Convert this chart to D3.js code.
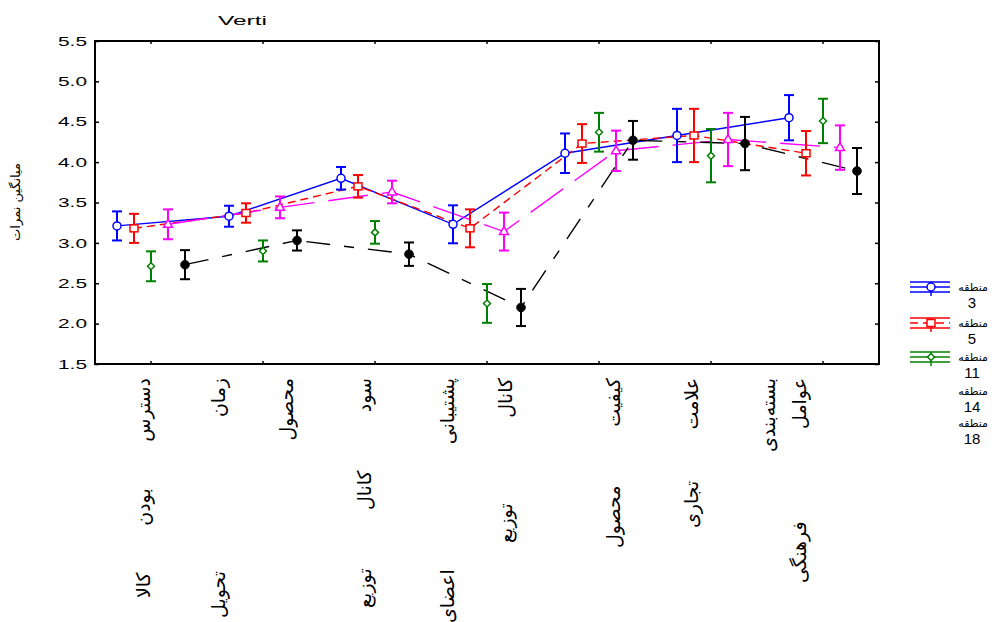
<!DOCTYPE html>
<html>
<head>
<meta charset="utf-8">
<script src="https://cdn.jsdelivr.net/npm/d3@7"></script>
<style>
  body { margin: 0; background: #fff; }
  text { font-family: "Liberation Sans", Arial, sans-serif; }
  .fa { font-family: "DejaVu Sans", sans-serif; }
</style>
</head>
<body>
<script>
// categories (one per tick) - each label is split over lines like the original
var groups = ["g1", "g2", "g3", "g4", "g5", "g6", "g7"];
var labelLines = [
    ["دسترس بودن کالا"],
    ["زمان تحویل", "محصول"],
    ["سود کانال توزیع"],
    ["پشتیبانی اعضای", "کانال توزیع"],
    ["کیفیت محصول"],
    ["علامت تجاری"],
    ["بسته‌بندی", "عوامل فرهنگی"]
];

// series (regions)
var seriesNames = ["3", "5", "11", "14", "18"];
var means3  = [3.21, 3.33, 3.80, 3.23, 4.11, 4.33, 4.55];
var err3    = [0.18, 0.13, 0.14, 0.235, 0.245, 0.33, 0.28];
var means5  = [3.18, 3.37, 3.70, 3.18, 4.23, 4.33, 4.11];
var err5    = [0.18, 0.12, 0.14, 0.235, 0.24, 0.33, 0.275];
var means11 = [2.71, 2.90, 3.13, 2.25, 4.37, 4.08, 4.51];
var err11   = [0.185, 0.13, 0.14, 0.24, 0.24, 0.33, 0.275];
var means14 = [3.23, 3.44, 3.63, 3.14, 4.14, 4.28, 4.18];
var err14   = [0.185, 0.135, 0.14, 0.235, 0.25, 0.33, 0.275];
var means18 = [2.73, 3.03, 2.86, 2.20, 4.27, 4.23, 3.89];
var err18   = [0.18, 0.125, 0.145, 0.23, 0.24, 0.33, 0.285];

var yTicks = [1.5, 2.0, 2.5, 3.0, 3.5, 4.0, 4.5, 5.0, 5.5];

// styling per series
var colors = ["#0000ff", "#ff0000", "#008000", "#ff00ff", "#000000"];
var dashes = [null, "8,5", null, "40,14", "24,14,10,14"];
var drawLine = [true, true, false, true, true];
var markers = ["circle", "square", "diamond", "triangle", "dot"];

// label layout (offset from tick and target length)
var labelDx = [[-8], [-45, 23], [-11], [-40, 18], [14], [-20], [-55, -24]];
var labelLen = [[220], [240, 75], [230], [245, 165], [170], [150], [123, 205]];

var allMeans = [means3, means5, means11, means14, means18];
var allErr = [err3, err5, err11, err14, err18];

var W = 995, H = 622;
var pLeft = 95, pRight = 879, pTop = 41, pBottom = 364;

var svg = d3.select("body").append("svg")
    .attr("width", W)
    .attr("height", H);

var x0 = d3.scaleBand().domain(groups).range([pLeft, pRight]).padding(0);
var x1 = d3.scalePoint().domain(seriesNames).range([-34, 34]);
var y = d3.scaleLinear().domain([1.5, 5.5]).range([pBottom, pTop]);

function cx(g, s) { return x0(g) + x0.bandwidth() / 2 + x1(s); }

// series table
var series = seriesNames.map(function(name, si) {
    return {
        name: name,
        color: colors[si],
        dash: dashes[si],
        line: drawLine[si],
        marker: markers[si],
        points: groups.map(function(g, gi) {
            return { g: g, s: name, m: allMeans[si][gi], e: allErr[si][gi] };
        })
    };
});

// axes
var yLeft = d3.axisLeft(y).tickValues(yTicks).tickFormat(d3.format(".1f")).tickSize(-4).tickPadding(8);
var yRight = d3.axisRight(y).tickValues(yTicks).tickFormat("").tickSize(-4);
var xTop = d3.axisTop(x0).tickFormat("").tickSize(-3);
var xBottom = d3.axisBottom(x0).tickFormat("").tickSize(-3);

var gl = svg.append("g").attr("transform", "translate(" + pLeft + ",0)").call(yLeft);
svg.append("g").attr("transform", "translate(" + pRight + ",0)").call(yRight);
svg.append("g").attr("transform", "translate(0," + pTop + ")").call(xTop);
svg.append("g").attr("transform", "translate(0," + pBottom + ")").call(xBottom);

svg.selectAll(".domain").remove();
svg.selectAll(".tick line").attr("stroke", "#000").attr("stroke-width", 1.5);
gl.selectAll(".tick text")
    .attr("font-size", 13)
    .attr("fill", "#000")
    .attr("textLength", 29)
    .attr("lengthAdjust", "spacingAndGlyphs");

// frame
svg.append("rect")
    .attr("x", pLeft).attr("y", pTop)
    .attr("width", pRight - pLeft).attr("height", pBottom - pTop)
    .attr("fill", "none").attr("stroke", "#000").attr("stroke-width", 2);

// lines
var line = d3.line()
    .x(function(d) { return cx(d.g, d.s); })
    .y(function(d) { return y(d.m); });

svg.selectAll(".serLine")
    .data(series.filter(function(d) { return d.line; }))
    .enter().append("path")
    .attr("class", "serLine")
    .attr("d", function(d) { return line(d.points); })
    .attr("fill", "none")
    .attr("stroke", function(d) { return d.color; })
    .attr("stroke-width", 1.4)
    .attr("stroke-dasharray", function(d) { return d.dash; });

// markers
function drawMarker(sel, type, color, px, py) {
    if (type === "circle") {
        sel.append("circle").attr("cx", px).attr("cy", py).attr("r", 4)
            .attr("fill", "#fff").attr("stroke", color).attr("stroke-width", 1.5);
    } else if (type === "dot") {
        sel.append("circle").attr("cx", px).attr("cy", py).attr("r", 4.3)
            .attr("fill", color).attr("stroke", color).attr("stroke-width", 1);
    } else if (type === "square") {
        sel.append("rect").attr("x", px - 4).attr("y", py - 3.5).attr("width", 8).attr("height", 7)
            .attr("fill", "#fff").attr("stroke", color).attr("stroke-width", 1.5);
    } else if (type === "diamond") {
        sel.append("path")
            .attr("d", "M" + px + "," + (py - 3.5) + "L" + (px + 3.5) + "," + py + "L" + px + "," + (py + 3.5) + "L" + (px - 3.5) + "," + py + "Z")
            .attr("fill", "#fff").attr("stroke", color).attr("stroke-width", 1.5);
    } else if (type === "triangle") {
        sel.append("path")
            .attr("d", "M" + px + "," + (py - 5) + "L" + (px + 4.5) + "," + (py + 3) + "L" + (px - 4.5) + "," + (py + 3) + "Z")
            .attr("fill", "#fff").attr("stroke", color).attr("stroke-width", 1.5);
    }
}

// error bars + markers
series.forEach(function(s) {
    var g = svg.append("g").attr("class", "ser");
    s.points.forEach(function(p) {
        var px = cx(p.g, p.s);
        var y1 = y(p.m + p.e), y2 = y(p.m - p.e);
        g.append("line").attr("x1", px).attr("x2", px).attr("y1", y1).attr("y2", y2)
            .attr("stroke", s.color).attr("stroke-width", 2);
        [y1, y2].forEach(function(yy) {
            g.append("line").attr("x1", px - 5).attr("x2", px + 5).attr("y1", yy).attr("y2", yy)
                .attr("stroke", s.color).attr("stroke-width", 2);
        });
        drawMarker(g, s.marker, s.color, px, y(p.m));
    });
});

// x labels, rotated; words are spread with word-spacing so letters stay joined
groups.forEach(function(g, gi) {
    labelLines[gi].forEach(function(txt, li) {
        var lx = x0(g) + x0.bandwidth() / 2 + labelDx[gi][li];
        var t = svg.append("text")
            .attr("class", "fa")
            .attr("transform", "translate(" + lx + ",378) rotate(-90)")
            .attr("text-anchor", "end")
            .attr("dominant-baseline", "central")
            .attr("font-size", 19)
            .text(txt);
        var nat = t.node().getComputedTextLength();
        var gaps = txt.split(" ").length - 1;
        if (gaps > 0 && nat < labelLen[gi][li]) {
            t.style("word-spacing", ((labelLen[gi][li] - nat) / gaps) + "px");
        }
    });
});

// title (cut off in the original)
svg.append("text")
    .attr("x", 218).attr("y", 25)
    .attr("font-size", 13)
    .attr("textLength", 49)
    .attr("lengthAdjust", "spacingAndGlyphs")
    .text("Verti");

// y label
svg.append("text")
    .attr("class", "fa")
    .attr("transform", "translate(15,202) rotate(-90)")
    .attr("text-anchor", "middle")
    .attr("dominant-baseline", "central")
    .attr("font-size", 13)
    .text("میانگین نمرات");

// legend
var legY = [287, 323, 357, 391, 423];
series.forEach(function(s, si) {
    var ly = legY[si];
    var lg = svg.append("g").attr("class", "legend");
    if (si < 3) {
        lg.append("line").attr("x1", 910).attr("x2", 950).attr("y1", ly - 5).attr("y2", ly - 5)
            .attr("stroke", s.color).attr("stroke-width", 1.4);
        lg.append("line").attr("x1", 910).attr("x2", 950).attr("y1", ly + 5).attr("y2", ly + 5)
            .attr("stroke", s.color).attr("stroke-width", 1.4);
        lg.append("line").attr("x1", 910).attr("x2", 950).attr("y1", ly).attr("y2", ly)
            .attr("stroke", s.color).attr("stroke-width", 1.4)
            .attr("stroke-dasharray", s.dash);
        lg.append("line").attr("x1", 931).attr("x2", 931).attr("y1", ly - 5).attr("y2", ly + 9)
            .attr("stroke", s.color).attr("stroke-width", 1.5);
        drawMarker(lg, s.marker, s.color, 931, ly);
    }
    lg.append("text").attr("class", "fa")
        .attr("x", 988).attr("y", ly)
        .attr("text-anchor", "end")
        .attr("dominant-baseline", "central")
        .attr("font-size", 11)
        .text("منطقه");
    lg.append("text")
        .attr("x", 972).attr("y", ly + 21)
        .attr("text-anchor", "middle")
        .attr("font-size", 15)
        .text(s.name);
});
</script>
</body>
</html>
